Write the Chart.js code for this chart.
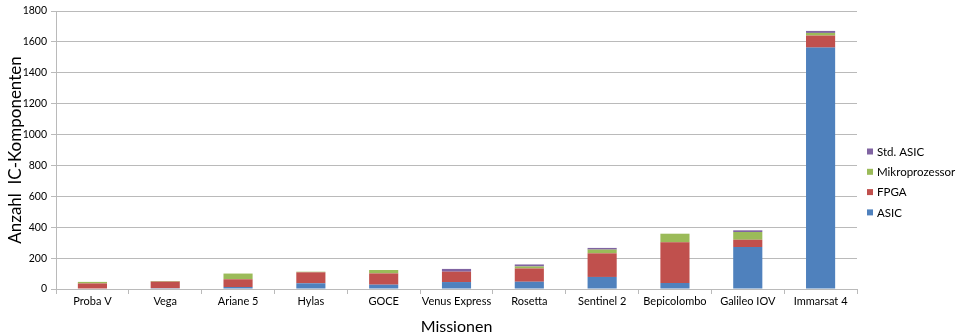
<!DOCTYPE html>
<html>
<head>
<meta charset="utf-8">
<script src="https://cdn.jsdelivr.net/npm/chart.js@4/dist/chart.umd.min.js"></script>
<style>
  html, body { margin: 0; padding: 0; background: #ffffff; }
  #wrap { width: 961px; height: 336px; }
</style>
</head>
<body>
<div id="wrap"><canvas id="c" width="961" height="336"></canvas></div>
<script>
// Missions on the x axis
const missions = ['Proba V', 'Vega', 'Ariane 5', 'Hylas', 'GOCE', 'Venus Express', 'Rosetta',
                  'Sentinel 2', 'Bepicolombo', 'Galileo IOV', 'Immarsat 4'];

// IC component counts per type
const asic       = [0, 5, 13, 37, 28, 45, 47, 78, 39, 272, 1563];
const fpga       = [36, 43, 50, 71, 73, 67, 86, 153, 263, 47, 78];
const mikro      = [10, 4, 37, 4, 22, 0, 13, 24, 56, 50, 17];
const stdAsic    = [0, 0, 0, 0, 0, 18, 13, 11, 0, 11, 13];

const yTicks = [0, 200, 400, 600, 800, 1000, 1200, 1400, 1600, 1800];

const FONT = 'Lato, "Liberation Sans", sans-serif';
const GRID = '#bababa';

// Legend drawn at the right side, last series on top
const sideLegend = {
  id: 'sideLegend',
  afterDraw(chart) {
    const ctx = chart.ctx;
    const ds = chart.data.datasets.slice().reverse();
    ctx.save();
    ctx.font = '11.5px ' + FONT;
    ctx.textBaseline = 'middle';
    ctx.textAlign = 'left';
    ds.forEach((d, i) => {
      const y = 152 + i * 20.3;
      ctx.fillStyle = d.backgroundColor;
      ctx.fillRect(867, y - 3.5, 6, 6);
      ctx.fillStyle = '#000';
      ctx.fillText(d.label, 877, y);
    });
    ctx.restore();
  }
};

new Chart(document.getElementById('c'), {
  type: 'bar',
  data: {
    labels: missions,
    datasets: [
      { label: 'ASIC', data: asic, backgroundColor: '#4F81BD' },
      { label: 'FPGA', data: fpga, backgroundColor: '#C0504D' },
      { label: 'Mikroprozessor', data: mikro, backgroundColor: '#9BBB59' },
      { label: 'Std. ASIC', data: stdAsic, backgroundColor: '#8064A2' }
    ]
  },
  options: {
    responsive: false,
    animation: false,
    devicePixelRatio: 1,
    layout: { padding: { top: 11, right: 104, left: 0, bottom: 0 } },
    datasets: { bar: { barPercentage: 0.4, categoryPercentage: 1.0, borderWidth: 0 } },
    plugins: { legend: { display: false }, tooltip: { enabled: false } },
    scales: {
      x: {
        stacked: true,
        grid: { display: true, offset: true, drawOnChartArea: false, color: GRID, tickLength: 5 },
        border: { display: true, color: GRID, width: 1 },
        ticks: { color: '#000', font: { family: FONT, size: 11 }, padding: 1, maxRotation: 0, autoSkip: false },
        title: { display: true, text: 'Missionen', color: '#000', font: { family: FONT, size: 16 }, padding: { top: 4, bottom: 0 } },
        afterFit(scale) { scale.height = 47; }
      },
      y: {
        stacked: true,
        min: 0,
        max: 1800,
        afterBuildTicks(scale) { scale.ticks = yTicks.map(v => ({ value: v })); },
        grid: { color: GRID, tickLength: 5 },
        border: { display: true, color: GRID, width: 1 },
        ticks: { color: '#000', font: { family: FONT, size: 10.5 }, padding: 4, callback: v => String(v) },
        title: { display: true, text: 'Anzahl  IC-Komponenten', color: '#000', font: { family: FONT, size: 17 }, padding: { top: 5, bottom: 4 } },
        afterFit(scale) { scale.width = 56; }
      }
    }
  },
  plugins: [sideLegend]
});
</script>
</body>
</html>
